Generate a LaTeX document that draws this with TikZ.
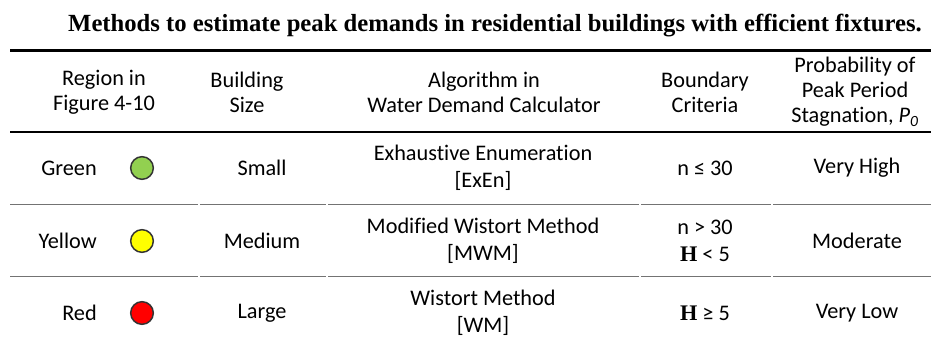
\documentclass[tikz,border=0pt]{standalone}
\usepackage{fontspec}
\setmainfont[Ligatures=NoCommon]{Carlito}
\newfontfamily\titlefont{Liberation Serif}
\definecolor{dotgreen}{HTML}{92D050}
\definecolor{dotyellow}{HTML}{FFFF00}
\definecolor{dotred}{HTML}{FF0000}
\newcommand{\bH}{{\titlefont\bfseries H}}

\begin{document}
\begin{tikzpicture}[x=0.75pt,y=-0.75pt,
   txt/.style={font=\fontsize{16.7}{20.5}\selectfont,align=center,inner sep=0pt},
   hdr/.style={txt,font=\fontsize{16.7}{18.75}\selectfont},
   dot/.style={draw=black!80,line width=1.1pt,circle,minimum size=17pt,inner sep=0pt},
   toprule/.style={line width=1.6pt},
   sep/.style={draw=black!55,line width=0.7pt}]
\useasboundingbox (0,0) rectangle (931,342);

% title
\node[font=\titlefont\bfseries\fontsize{18.5}{22}\selectfont,inner sep=0pt] (title) at (495,26)
   {Methods to estimate peak demands in residential buildings with efficient fixtures.};

% rules
\coordinate (tl) at (10,50.5);  \coordinate (tr) at (931,50.5);
\coordinate (ml) at (10,132);   \coordinate (mr) at (931,132);
\draw[toprule] (tl) -- (tr);
\draw[toprule] (ml) -- (mr);

% header
\node[hdr] (hregion) at (104,92) {Region in\\Figure 4-10};
\node[hdr] (hsize)   at (247,92) {Building\\Size};
\node[hdr] (halgo)   at (484,92) {Algorithm in\\Water Demand Calculator};
\node[hdr] (hcrit)   at (705,92) {Boundary\\Criteria};
\node[hdr] (hprob)   at (855,92) {Probability of\\Peak Period\\Stagnation, {\itshape P\textsubscript{0}}};

% row 1
\node[txt,anchor=east] (green) at (97,168) {Green};
\node[dot,fill=dotgreen] (cgreen) at (142,168) {};
\node[txt] (small) at (262,168) {Small};
\node[txt] (exen)  at (483,168) {Exhaustive Enumeration\\{}[ExEn]};
\node[txt] (crit1) at (705,168) {n ≤ 30};
\node[txt] (high)  at (857,168) {Very High};

% row 2
\node[txt,anchor=east] (yellow) at (97,241) {Yellow};
\node[dot,fill=dotyellow] (cyellow) at (142,241) {};
\node[txt] (medium) at (262,241) {Medium};
\node[txt] (mwm)    at (483,241) {Modified Wistort Method\\{}[MWM]};
\node[txt] (crit2)  at (705,241) {n > 30\\\bH\ < 5};
\node[txt] (moder)  at (857,241) {Moderate};

% row 3
\node[txt,anchor=east] (red) at (97,313) {Red};
\node[dot,fill=dotred] (cred) at (142,313) {};
\node[txt] (large) at (262,313) {Large};
\node[txt] (wm)    at (483,313) {Wistort Method\\{}[WM]};
\node[txt] (crit3) at (705,313) {\bH\ ≥ 5};
\node[txt] (low)   at (857,313) {Very Low};

% row separators
\foreach \y in {204.5,276.5} {
  \draw[sep] (10,\y) -- (198,\y);
  \draw[sep] (200,\y) -- (326,\y);
  \draw[sep] (328,\y) -- (639,\y);
  \draw[sep] (641,\y) -- (771,\y);
  \draw[sep] (773,\y) -- (931,\y);
}
\end{tikzpicture}
\end{document}
